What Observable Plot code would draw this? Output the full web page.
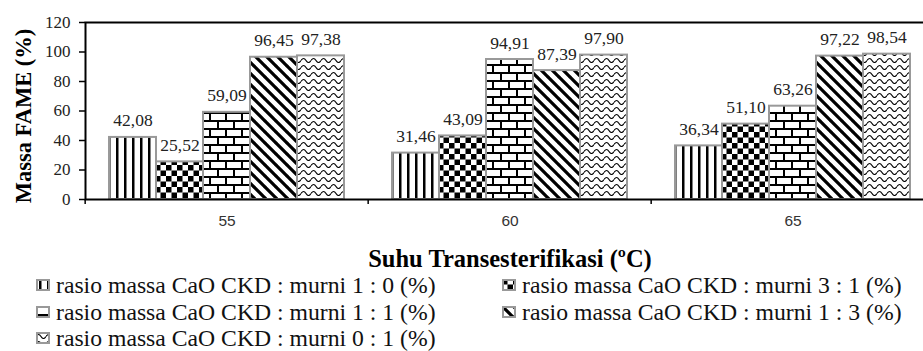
<!DOCTYPE html>
<html><head><meta charset="utf-8">
<script src="https://cdn.jsdelivr.net/npm/d3@7"></script>
<script src="https://cdn.jsdelivr.net/npm/@observablehq/plot@0.6"></script>
<style>
html,body{margin:0;padding:0;background:#fff;}
body{width:923px;height:351px;overflow:hidden;position:relative;}
#chart svg{display:block;overflow:hidden;}
#legend{position:absolute;left:0;top:272px;width:923px;font-family:'Liberation Serif','Times New Roman',serif;font-size:23.7px;line-height:26.5px;color:#111;}
.item{position:absolute;white-space:nowrap;display:flex;align-items:center;height:26.5px;}
.item svg{margin-right:6px;flex:none;}
</style></head><body>
<div id="chart"></div>
<div id="legend"></div>
<script>
// ---- data ----
const temps = ["55", "60", "65"];
const series = [
  "rasio massa CaO CKD : murni 1 : 0 (%)",
  "rasio massa CaO CKD : murni 3 : 1 (%)",
  "rasio massa CaO CKD : murni 1 : 1 (%)",
  "rasio massa CaO CKD : murni 1 : 3 (%)",
  "rasio massa CaO CKD : murni 0 : 1 (%)"
];
const ratio10 = [42.08, 31.46, 36.34];
const ratio31 = [25.52, 43.09, 51.10];
const ratio11 = [59.09, 94.91, 63.26];
const ratio13 = [96.45, 87.39, 97.22];
const ratio01 = [97.38, 97.90, 98.54];
const yTicks = [0, 20, 40, 60, 80, 100, 120];
const xTitle = "Suhu Transesterifikasi (ºC)";
const yTitle = "Massa FAME (%)";
// legend layout order (rows of two columns)
const legendOrder = [[0, 1], [2, 3], [4]];

const seriesValues = [ratio10, ratio31, ratio11, ratio13, ratio01];
const table = [];
temps.forEach((t, ti) => series.forEach((s, si) => table.push({temp: t, series: s, value: seriesValues[si][ti]})));
const patternIds = series.map((s, i) => `url(#pat${i})`);
const fmt = v => v.toFixed(2).replace(".", ",");

const W = 923, H = 274, mL = 84, mR = -12, mT = 22, mB = 75;
const serif = "'Liberation Serif', 'Times New Roman', serif";

const chart = Plot.plot({
  width: W, height: H,
  marginLeft: mL, marginRight: mR, marginTop: mT, marginBottom: mB,
  style: {fontFamily: serif, background: "#fff", color: "#000"},
  fx: {domain: temps, padding: 0, label: null},
  x: {domain: series, paddingInner: 0, paddingOuter: 0.48, axis: null},
  y: {domain: [0, 120], label: null},
  color: {type: "ordinal", domain: series, range: patternIds},
  marks: [
    Plot.barY(table, {fx: "temp", x: "series", y: "value", fill: "series", stroke: "#999", strokeWidth: 2}),
    Plot.text(table, {fx: "temp", x: "series", y: "value", text: d => fmt(d.value), lineAnchor: "bottom", dy: -11, fontSize: 17.5, fontFamily: serif, fill: "#222"}),
    Plot.frame({facet: "super", stroke: "#000", strokeWidth: 2}),
    Plot.axisY({ticks: yTicks, tickSize: 6, tickPadding: 9, fontSize: 17, fontFamily: serif, stroke: "#000", strokeWidth: 1.5, fill: "#222", label: null}),
    Plot.axisFx({anchor: "bottom", tickSize: 0, tickPadding: 15, fontSize: 15.5, fontFamily: "'Liberation Sans Narrow', 'Liberation Sans', sans-serif", fill: "#333", label: null}),
    Plot.axisFx({anchor: "bottom", tickSize: 5, tickFormat: () => "", dx: -((W - mR - mL) / temps.length) / 2, stroke: "#000", strokeWidth: 1.5, label: null}),
    Plot.text([xTitle], {facet: "super", frameAnchor: "bottom", textAnchor: "middle", lineAnchor: "middle", dy: 60, fontSize: 24.5, fontWeight: "bold", fontFamily: serif, fill: "#000"}),
    Plot.text([yTitle], {facet: "super", frameAnchor: "left", textAnchor: "middle", rotate: -90, lineAnchor: "middle", dx: -62, dy: 5, fontSize: 22.5, fontWeight: "bold", fontFamily: serif, fill: "#000"})
  ]
});

d3.select(chart).insert("defs", ":first-child").html(`
<pattern id="pat0" patternUnits="userSpaceOnUse" width="8" height="8"><rect width="8" height="8" fill="#fff"/><rect x="3" width="2.5" height="8" fill="#000"/></pattern>
<pattern id="pat1" patternUnits="userSpaceOnUse" width="11" height="11"><rect width="11" height="11" fill="#fff"/><rect width="5.5" height="5.5" fill="#000"/><rect x="5.5" y="5.5" width="5.5" height="5.5" fill="#000"/></pattern>
<pattern id="pat2" patternUnits="userSpaceOnUse" width="16" height="16"><rect width="16" height="16" fill="#fff"/><path d="M0,1H16M0,9H16M1,1V9M9,9V17" stroke="#000" stroke-width="2" fill="none"/></pattern>
<pattern id="pat3" patternUnits="userSpaceOnUse" width="11" height="11"><rect width="11" height="11" fill="#fff"/><path d="M-1,-1L12,12M-12,-1L1,12M10,-1L23,12" stroke="#000" stroke-width="3.2"/></pattern>
<pattern id="pat4" patternUnits="userSpaceOnUse" width="10" height="7"><rect width="10" height="7" fill="#fff"/><path d="M0,4.5Q2.5,0.5 5,4.5T10,4.5" fill="none" stroke="#000" stroke-width="1.2"/></pattern>
`);
document.getElementById("chart").appendChild(chart);

// legend
const colX = [36, 502];
const legend = d3.select("#legend");
legendOrder.forEach((row, ri) => row.forEach((si, ci) => {
  const item = legend.append("div").attr("class", "item")
    .style("left", colX[ci] + "px").style("top", (ri * 26.5) + "px");
  const sw = item.append("svg").attr("width", 14).attr("height", 12);
  sw.append("rect").attr("x", 1).attr("y", 1).attr("width", 12).attr("height", 10)
    .attr("fill", patternIds[si]).attr("stroke", "#999").attr("stroke-width", 2);
  item.append("span").text(series[si]);
}));
</script>
</body></html>
